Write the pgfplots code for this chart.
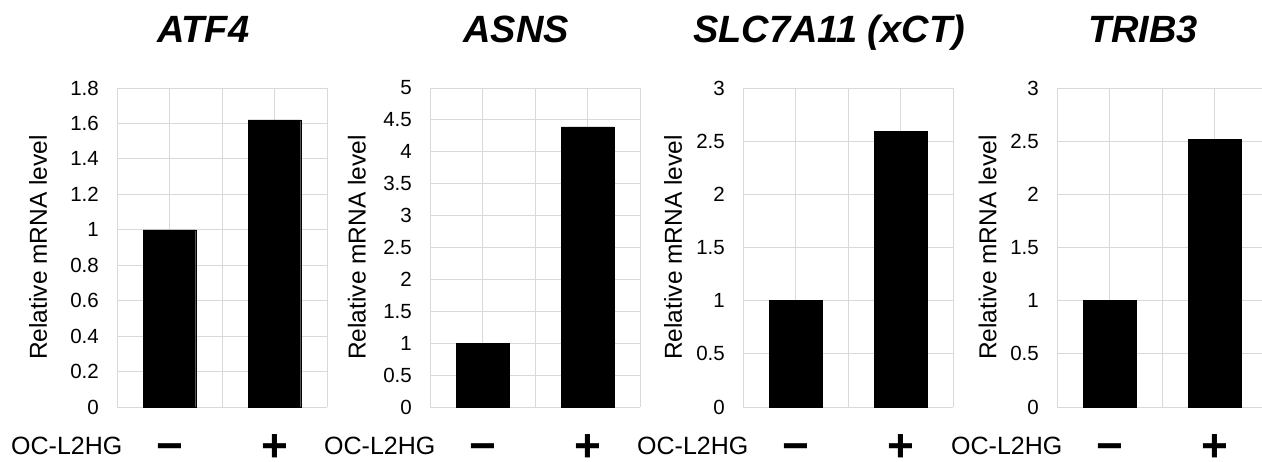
\documentclass[border=0pt]{standalone}
\usepackage{fontspec}
\setmainfont{Liberation Sans}
\usepackage{pgfplots}
\pgfplotsset{compat=1.18}
\definecolor{gridgray}{HTML}{D9D9D9}

\pgfplotsset{
  panel/.style={
    scale only axis, width=210pt, height=319pt,
    anchor=south west, clip=false,
    xmin=0, xmax=4, ymin=0,
    axis line style={draw=none},
    xtick={1,3}, xticklabels={−,+},
    minor xtick={0,2,4},
    xmajorgrids=true, xminorgrids=true, ymajorgrids=true,
    major grid style={draw=gridgray, line width=0.9pt},
    minor grid style={draw=gridgray, line width=0.9pt},
    major tick length=0pt, minor tick length=0pt,
    tick style={draw=none},
    /pgf/number format/assume math mode=true,
    yticklabel style={font=\fontsize{20.5}{20.5}\selectfont, inner sep=0pt, xshift=-18pt},
    xticklabel style={font=\fontsize{46}{46}\selectfont\bfseries, anchor=base, inner sep=0pt, yshift=-55pt},
    every axis y label/.style={at={(axis description cs:-0.376,0.5)}, rotate=90, anchor=center, font=\fontsize{24.5}{24.5}\selectfont},
    ylabel={Relative mRNA level},
    every axis title shift=0pt,
    title style={at={(axis description cs:0.41,1)}, anchor=base, yshift=45pt, font=\fontsize{38}{38}\selectfont\bfseries\itshape},
    ybar, bar width=1,
  },
  bars/.style={fill=black, draw=black},
}

\newcommand{\oclabel}{\node[anchor=base west, inner sep=0pt, font=\fontsize{25}{25}\selectfont, xshift=-106pt, yshift=-48pt] at (rel axis cs:0,0) {OC-L2HG};}

\begin{document}
\begin{tikzpicture}
\begin{axis}[panel, at={(117pt,55pt)}, title={ATF4}, ymax=1.8, ytick={0,0.2,...,1.8},
  yticklabels={0,0.2,0.4,0.6,0.8,1,1.2,1.4,1.6,1.8}]
\addplot[bars] coordinates {(1,1.0) (3,1.62)};
\oclabel
\end{axis}
\begin{axis}[panel, at={(430pt,55pt)}, title={ASNS}, ymax=5, ytick={0,0.5,...,5},
  yticklabels={0,0.5,1,1.5,2,2.5,3,3.5,4,4.5,5}, every axis y label/.append style={at={(axis description cs:-0.348,0.5)}}]
\addplot[bars] coordinates {(1,1.0) (3,4.39)};
\oclabel
\end{axis}
\begin{axis}[panel, at={(743pt,55pt)}, title={SLC7A11 (xCT)}, ymax=3, ytick={0,0.5,...,3},
  yticklabels={0,0.5,1,1.5,2,2.5,3}, every axis y label/.append style={at={(axis description cs:-0.333,0.5)}}]
\addplot[bars] coordinates {(1,1.0) (3,2.59)};
\oclabel
\end{axis}
\begin{axis}[panel, at={(1057pt,55pt)}, title={TRIB3}, ymax=3, ytick={0,0.5,...,3},
  yticklabels={0,0.5,1,1.5,2,2.5,3}, every axis y label/.append style={at={(axis description cs:-0.331,0.5)}}]
\addplot[bars] coordinates {(1,1.0) (3,2.52)};
\oclabel
\end{axis}
\pgfresetboundingbox
\path[use as bounding box] (0,0) rectangle (1262pt,462pt);
\end{tikzpicture}
\end{document}
